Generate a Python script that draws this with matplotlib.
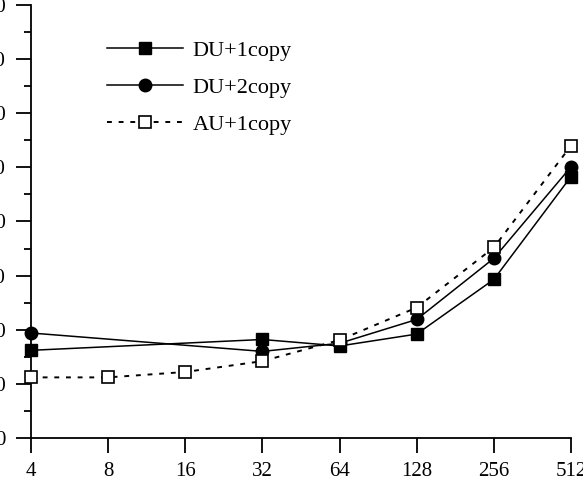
import matplotlib
matplotlib.use("Agg")
import matplotlib.pyplot as plt
from matplotlib.ticker import MultipleLocator, FixedLocator, FixedFormatter, NullLocator

plt.rcParams['font.family'] = ['Liberation Serif', 'DejaVu Serif']

x_au = [4, 8, 16, 32, 64, 128, 256, 512]
x_du = [4, 32, 64, 128, 256, 512]
du1 = [16.2, 18.2, 17.0, 19.2, 29.3, 48.3]
du2 = [19.4, 16.0, 17.5, 21.9, 33.2, 50.1]
au1 = [11.2, 11.2, 12.2, 14.2, 18.1, 24.1, 35.2, 54.0]
xtick_labels = ["4", "8", "16", "32", "64", "128", "256", "512"]
yticks = [0, 10, 20, 30, 40, 50, 60, 70, 80]

fig = plt.figure(figsize=(5.83, 4.97), dpi=100)
ax = fig.add_axes([31/583, 1-438/497, (571-31)/583, (438-5)/497])

ax.plot(x_du, du1, color='black', lw=1.1, marker='s', ms=9, mfc='black', mec='black',
        label='DU+1copy', clip_on=False, zorder=3)
ax.plot(x_du, du2, color='black', lw=1.1, marker='o', ms=9, mfc='black', mec='black',
        label='DU+2copy', clip_on=False, zorder=3)
ax.plot(x_au, au1, color='black', lw=1.4, ls=(0, (2.5, 3.5)), marker='s', ms=9,
        mfc='white', mec='black', mew=1.2, label='AU+1copy', clip_on=False, zorder=4)

ax.set_xscale('log', base=2)
ax.set_xlim(4, 512)
ax.xaxis.set_major_locator(FixedLocator(x_au))
ax.xaxis.set_major_formatter(FixedFormatter(xtick_labels))
ax.xaxis.set_minor_locator(NullLocator())
ax.set_ylim(0, 80)
ax.set_yticks(yticks)
ax.set_yticklabels([str(v) for v in yticks])
ax.yaxis.set_minor_locator(MultipleLocator(5))

for s in ['top', 'right']:
    ax.spines[s].set_visible(False)
for s in ['left', 'bottom']:
    ax.spines[s].set_linewidth(1.3)

ax.tick_params(axis='both', which='major', direction='out', length=11, width=1.3,
               labelsize=15, colors='black')
ax.tick_params(axis='y', which='major', pad=7)
ax.tick_params(axis='x', which='major', pad=6)
ax.tick_params(axis='y', which='minor', direction='out', length=5, width=1.3)

leg = ax.legend(loc='upper left', bbox_to_anchor=(107/583, 1-40/497),
                bbox_transform=fig.transFigure, frameon=False, fontsize=16,
                borderpad=0, borderaxespad=0, handlelength=3.4, handletextpad=0.45,
                labelspacing=0.75)

fig.savefig('out.png', dpi=100)
